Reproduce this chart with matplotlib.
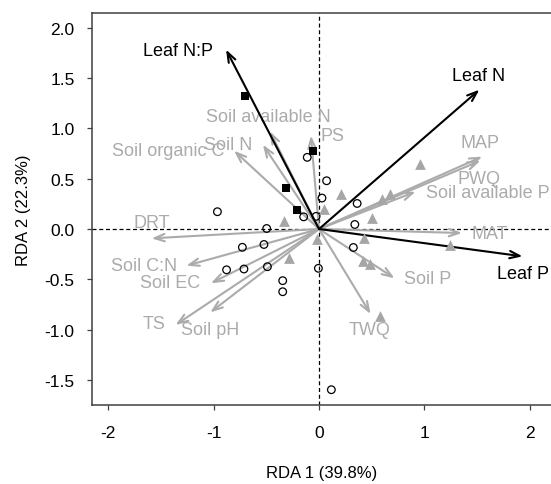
import matplotlib
matplotlib.use('Agg')
import matplotlib.pyplot as plt

plt.rcParams['font.family'] = ['Liberation Sans', 'DejaVu Sans']

# response (leaf) vectors
leaf_names = ['Leaf N:P', 'Leaf N', 'Leaf P']
leaf_x = [-0.883, 1.523, 1.933]
leaf_y = [1.785, 1.386, -0.272]

# environmental vectors
env_names = ['Soil available N', 'Soil N', 'Soil organic C', 'PS', 'MAP', 'PWQ',
             'Soil available P', 'MAT', 'Soil P', 'TWQ', 'DRT', 'Soil C:N',
             'Soil EC', 'TS', 'Soil pH']
env_x = [-0.467, -0.533, -0.807, -0.077, 1.55, 1.533, 0.917, 1.357, 0.717, 0.49,
         -1.59, -1.26, -1.027, -1.363, -1.033]
env_y = [0.972, 0.839, 0.779, 0.929, 0.72, 0.68, 0.371, -0.04, -0.49, -0.846,
         -0.093, -0.365, -0.54, -0.955, -0.83]

# site scores, three groups
sq_x = [-0.707, -0.057, -0.31, -0.205]
sq_y = [1.323, 0.78, 0.408, 0.188]

circ_x = [-0.112, 0.072, 0.028, 0.362, -0.965, -0.497, -0.146, -0.028, 0.34,
          -0.728, -0.523, -0.878, -0.713, -0.49, 0.326, -0.006, -0.345, -0.345, 0.117]
circ_y = [0.713, 0.48, 0.308, 0.254, 0.172, 0.005, 0.121, 0.126, 0.045,
          -0.182, -0.154, -0.406, -0.398, -0.375, -0.184, -0.391, -0.514, -0.624, -1.599]

tri_x = [0.955, 0.672, 0.597, 0.206, 0.045, 0.503, -0.328, 0.424, -0.022, -0.285,
         1.244, 0.418, 0.481, 0.583]
tri_y = [0.648, 0.353, 0.299, 0.344, 0.203, 0.108, 0.08, -0.086, -0.095, -0.289,
         -0.156, -0.318, -0.352, -0.862]

# label anchors (data units), layout only
leaf_lab = [(-1.335, 1.775), (1.512, 1.526), (1.933, -0.438)]
env_lab = [(-0.477, 1.12), (-0.86, 0.84), (-1.43, 0.78), (0.125, 0.93), (1.53, 0.862),
           (1.52, 0.50), (1.6, 0.365), (1.62, -0.04), (1.03, -0.49), (0.483, -0.995),
           (-1.587, 0.06), (-1.66, -0.365), (-1.413, -0.53), (-1.57, -0.945), (-1.03, -0.995)]

GREY = '#ababab'

fig = plt.figure(figsize=(5.51, 4.85), dpi=100)
ax = fig.add_axes([92 / 551, 1 - 406 / 485, 1 - 92 / 551, (406 - 14) / 485])
ax.set_xlim(-2.156, 2.203)
ax.set_ylim(-1.751, 2.149)

ax.axhline(0, color='black', lw=0.9, ls=(0, (3.2, 2.2)), zorder=1)
ax.axvline(0, color='black', lw=0.9, ls=(0, (3.2, 2.2)), zorder=1)

for x, y in zip(env_x, env_y):
    ax.annotate('', xy=(x, y), xytext=(0, 0),
                arrowprops=dict(arrowstyle='->,head_length=0.6,head_width=0.22',
                                color=GREY, lw=1.5, shrinkA=0, shrinkB=0,
                                mutation_scale=12), zorder=2)
for name, (lx, ly) in zip(env_names, env_lab):
    ax.text(lx, ly, name, color=GREY, fontsize=13, ha='center', va='center', zorder=2)

for x, y in zip(leaf_x, leaf_y):
    ax.annotate('', xy=(x, y), xytext=(0, 0),
                arrowprops=dict(arrowstyle='->,head_length=0.6,head_width=0.22',
                                color='black', lw=1.5, shrinkA=0, shrinkB=0,
                                mutation_scale=12), zorder=3)
for name, (lx, ly) in zip(leaf_names, leaf_lab):
    ax.text(lx, ly, name, color='black', fontsize=13, ha='center', va='center', zorder=3)

ax.scatter(circ_x, circ_y, s=30, facecolor='none', edgecolor='black', lw=0.9, zorder=4)
ax.scatter(tri_x, tri_y, s=60, marker='^', color='#a6a6a6', lw=0, zorder=4)
ax.scatter(sq_x, sq_y, s=32, marker='s', color='black', lw=0, zorder=4)

ax.set_xticks([-2, -1, 0, 1, 2])
ax.set_xticklabels(['-2', '-1', '0', '1', '2'])
ax.set_yticks([-1.5, -1.0, -0.5, 0.0, 0.5, 1.0, 1.5, 2.0])
ax.set_yticklabels(['-1.5', '-1.0', '-0.5', '0.0', '0.5', '1.0', '1.5', '2.0'])
ax.tick_params(axis='both', direction='out', length=3.5, width=0.9, color='#404040',
               labelsize=12.5)
ax.tick_params(axis='x', pad=11)
ax.tick_params(axis='y', pad=9)
for s in ['left', 'bottom', 'top']:
    ax.spines[s].set_color('#404040')
    ax.spines[s].set_linewidth(1.1)
ax.spines['right'].set_visible(False)

ax.set_xlabel('RDA 1 (39.8%)', fontsize=12, labelpad=18)
ax.set_ylabel('RDA 2 (22.3%)', fontsize=12, labelpad=10)

fig.savefig('out.png', dpi=100)
